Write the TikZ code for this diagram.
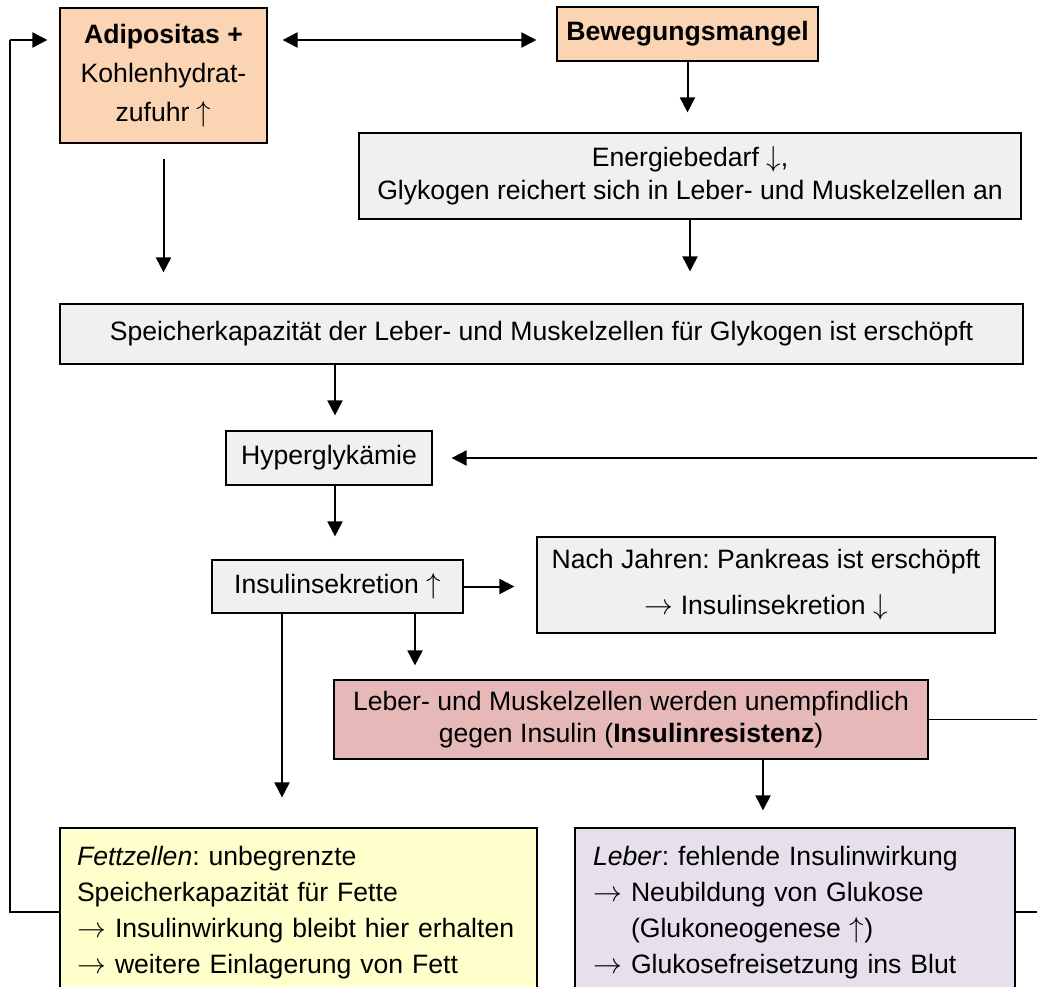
\documentclass[tikz,border=0pt]{standalone}
\usepackage{fontspec}
\setmainfont{Liberation Sans}
\usetikzlibrary{arrows.meta}

\definecolor{peach}{HTML}{FBD4B4}
\definecolor{lightgrey}{HTML}{F0F0F0}
\definecolor{rose}{HTML}{E6B8B7}
\definecolor{paleyellow}{HTML}{FFFFCC}
\definecolor{lavender}{HTML}{E5E0EC}
\newcommand{\pfeil}{\makebox[19pt][l]{$\rightarrow$}}
\frenchspacing

\begin{document}
\begin{tikzpicture}[x=0.5pt, y=-0.5pt,
    box/.style={draw, line width=0.6pt, align=center, inner sep=0pt, font=\fontsize{13.3}{16.5}\selectfont},
    listbox/.style={draw, line width=0.6pt, align=left, inner xsep=8.5pt, inner ysep=0pt, minimum height=84.5pt, font=\fontsize{13.3}{18}\selectfont},
    arr/.style={line width=1pt, -{Triangle[length=7.5pt,width=7.5pt]}},
    loopline/.style={line width=0.7pt}]
    \useasboundingbox (0,0) rectangle (1037,986);
    \clip (0,0) rectangle (1037,986);

    \coordinate (leftcol) at (10,0);
    \coordinate (rightcol) at (1050,0);
    \coordinate (toprow) at (0,40);
    \coordinate (botrow) at (0,912);
    \coordinate (colH) at (335,0);
    \coordinate (colA) at (282,0);
    \coordinate (colB) at (415,0);
    \coordinate (colC) at (763,0);

    \node[box, fill=peach, minimum width=103.5pt, minimum height=67.5pt, font=\fontsize{13.3}{19.5}\selectfont] (adip) at (163.5,75.5) {\textbf{Adipositas +}\\ Kohlenhydrat-\\ zufuhr $\uparrow$};
    \node[box, fill=peach, minimum width=130.5pt, minimum height=27pt] (beweg) at (687.5,34) {\textbf{Bewegungsmangel}};
    \node[box, fill=lightgrey, minimum width=331pt, minimum height=43pt] (energ) at (690,176) {Energiebedarf $\downarrow$,\\ Glykogen reichert sich in Leber- und Muskelzellen an};
    \node[box, fill=lightgrey, minimum width=481.5pt, minimum height=30pt] (speich) at (541.5,334) {Speicherkapazität der Leber- und Muskelzellen für Glykogen ist erschöpft};
    \node[box, fill=lightgrey, minimum width=103pt, minimum height=27pt] (hyper) at (329,458) {Hyperglykämie};
    \node[box, fill=lightgrey, minimum width=125.5pt, minimum height=26.5pt] (insul) at (337.5,586.5) {Insulinsekretion $\uparrow$};
    \node[box, fill=lightgrey, minimum width=229pt, minimum height=48pt, font=\fontsize{13.3}{23}\selectfont] (nach) at (766,585) {Nach Jahren: Pankreas ist erschöpft\\ $\rightarrow$ Insulinsekretion $\downarrow$};
    \node[box, fill=rose, minimum width=297pt, minimum height=39.5pt, font=\fontsize{13.3}{16}\selectfont] (insres) at (631,719.5) {Leber- und Muskelzellen werden unempfindlich\\ gegen Insulin (\textbf{Insulinresistenz})};
    \node[listbox, fill=paleyellow, text width=221.5pt] (fett) at (298.5,912.5) {\textit{Fettzellen}: unbegrenzte\\ Speicherkapazität für Fette\\ \pfeil Insulinwirkung bleibt hier erhalten\\ \pfeil weitere Einlagerung von Fett};
    \node[listbox, fill=lavender, text width=202pt, inner xsep=9pt] (leber) at (795,912.5) {\textit{Leber}: fehlende Insulinwirkung\\ \pfeil Neubildung von Glukose\\ \hspace*{19pt}(Glukoneogenese $\uparrow$)\\ \pfeil Glukosefreisetzung ins Blut};

    \draw[arr, {Triangle[length=7.5pt,width=7.5pt]}-{Triangle[length=7.5pt,width=7.5pt]}, shorten <=7.5pt, shorten >=10pt] (adip.east |- toprow) -- (beweg.west |- toprow);
    \draw[arr, shorten >=10pt] (beweg.south) -- (beweg.south |- energ.north);
    \draw[arr, shorten <=7.5pt, shorten >=15.5pt] (adip.south) -- (adip.south |- speich.north);
    \draw[arr, shorten >=16pt] (energ.south) -- (energ.south |- speich.north);
    \draw[arr, shorten >=7.5pt] (speich.south -| colH) -- (hyper.north -| colH);
    \draw[arr, shorten >=11.5pt] (hyper.south -| colH) -- (insul.north -| colH);
    \draw[arr, shorten >=11pt] (insul.east) -- (nach.west |- insul.east);
    \draw[arr, shorten >=15pt] (insul.south -| colA) -- (fett.north -| colA);
    \draw[arr, shorten >=7pt] (insul.south -| colB) -- (insres.north -| colB);
    \draw[arr, shorten >=8.5pt] (insres.south -| colC) -- (leber.north -| colC);
    \draw[loopline] (fett.west |- botrow) -- (botrow -| leftcol) -- (leftcol |- toprow);
    \draw[arr, shorten >=6pt] (leftcol |- toprow) -- (adip.west |- toprow);
    \draw[loopline] (insres.east) -- (insres.east -| rightcol);
    \draw[loopline] (leber.east |- botrow) -- (botrow -| rightcol) -- (rightcol |- hyper.east);
    \draw[arr, shorten >=9.5pt] (rightcol |- hyper.east) -- (hyper.east);
\end{tikzpicture}
\end{document}
